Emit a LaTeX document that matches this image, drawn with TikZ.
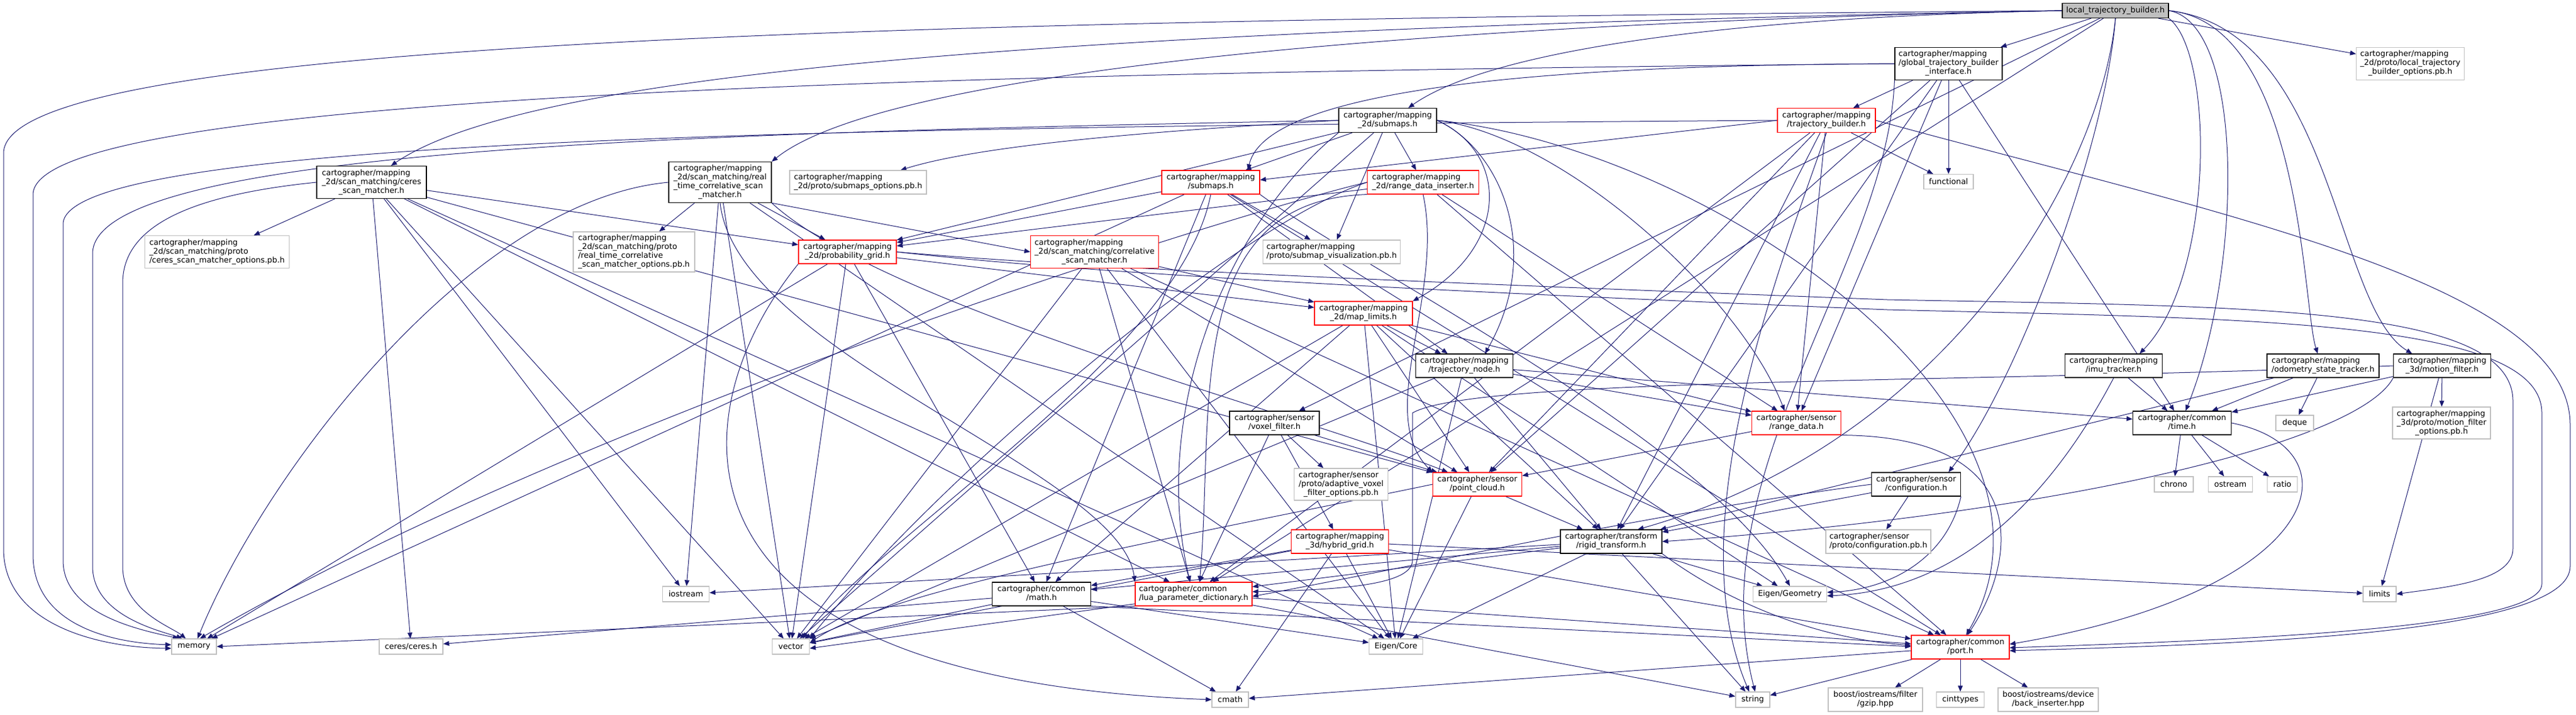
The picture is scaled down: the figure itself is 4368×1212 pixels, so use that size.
\documentclass[tikz,border=0pt]{standalone}
\usepackage{fontspec}
\setmainfont{DejaVu Sans}
\usetikzlibrary{arrows.meta}
\pgfdeclarelayer{bgzero}
\pgfdeclarelayer{edgelayer}
\pgfsetlayers{bgzero,edgelayer,main}
\definecolor{edgec}{HTML}{191970}
\definecolor{rootfill}{HTML}{BFBFBF}
\definecolor{extc}{HTML}{BFBFBF}
\newcommand{\dxl}[2]{\begin{tabular}{@{}l@{}}#1\multicolumn{1}{@{}c@{}}{#2}\end{tabular}}
\begin{document}
\begin{tikzpicture}[x=1pt,y=-1pt,
  basen/.style={rectangle, inner xsep=6pt, inner ysep=0pt, font=\fontsize{13.3pt}{15pt}\selectfont, text=black, line width=1.2pt, fill=white, minimum height=40pt},
  docn/.style={basen, draw=black},
  trunc/.style={basen, draw=red},
  extn/.style={basen, draw=extc},
  rootn/.style={basen, draw=black, fill=rootfill},
  dep/.style={draw=edgec, line width=1pt, -{Triangle[length=10pt,width=8pt]}},
]
\useasboundingbox (0,0) rectangle (4368,1212);
\begin{pgfonlayer}{bgzero}\fill[white] (0,0) rectangle (4368,1212);\end{pgfonlayer}

% ---------------- nodes ----------------
\node[rootn, minimum width=180pt, minimum height=25pt] (root) at (3587,18) {local\_trajectory\_builder.h};
\node[docn, minimum width=182pt, minimum height=55pt] (gtbi) at (3304,108) {\dxl{cartographer/mapping\\/global\_trajectory\_builder\\}{\_interface.h}};
\node[extn, minimum width=183pt, minimum height=55pt] (ltbopts) at (4087,108) {\dxl{cartographer/mapping\\\_2d/proto/local\_trajectory\\}{\_builder\_options.pb.h}};
\node[extn, minimum width=84pt, minimum height=25pt] (functional) at (3304,308) {functional};
\node[trunc, minimum width=166pt, minimum height=41pt] (trajbuilder) at (3097,204) {\dxl{cartographer/mapping\\}{/trajectory\_builder.h}};
\node[docn, minimum width=166pt, minimum height=41pt] (sub2d) at (2353,204) {\dxl{cartographer/mapping\\}{\_2d/submaps.h}};
\node[trunc, minimum width=189pt] (rdi) at (2413,309) {\dxl{cartographer/mapping\\}{\_2d/range\_data\_inserter.h}};
\node[extn, minimum width=232pt] (smviz) at (2258,427) {\dxl{cartographer/mapping\\}{/proto/submap\_visualization.pb.h}};
\node[trunc, minimum width=166pt] (maplimits) at (2312,531) {\dxl{cartographer/mapping\\}{\_2d/map\_limits.h}};
\node[trunc, minimum width=166pt] (submaps) at (2053,309) {\dxl{cartographer/mapping\\}{/submaps.h}};
\node[extn, minimum width=232pt] (smopts) at (1455,309) {\dxl{cartographer/mapping\\}{\_2d/proto/submaps\_options.pb.h}};
\node[docn, minimum width=174pt, minimum height=69pt] (rtcsm) at (1221,309) {\dxl{cartographer/mapping\\\_2d/scan\_matching/real\\\_time\_correlative\_scan\\}{\_matcher.h}};
\node[docn, minimum width=186pt, minimum height=55pt] (ceres) at (630,309) {\dxl{cartographer/mapping\\\_2d/scan\_matching/ceres\\}{\_scan\_matcher.h}};
\node[extn, minimum width=245pt, minimum height=55pt] (ceresopts) at (368,427) {\dxl{cartographer/mapping\\\_2d/scan\_matching/proto\\}{/ceres\_scan\_matcher\_options.pb.h}};
\node[extn, minimum width=206pt, minimum height=68pt] (rtcsmopts) at (1075,427) {\dxl{cartographer/mapping\\\_2d/scan\_matching/proto\\/real\_time\_correlative\\}{\_scan\_matcher\_options.pb.h}};
\node[trunc, minimum width=166pt] (probgrid) at (1437,427) {\dxl{cartographer/mapping\\}{\_2d/probability\_grid.h}};
\node[trunc, minimum width=217pt, minimum height=55pt] (corr) at (1856,427) {\dxl{cartographer/mapping\\\_2d/scan\_matching/correlative\\}{\_scan\_matcher.h}};
\node[docn, minimum width=165pt] (trajnode) at (2483,620) {\dxl{cartographer/mapping\\}{/trajectory\_node.h}};
\node[docn, minimum width=165pt] (imu) at (3584,620) {\dxl{cartographer/mapping\\}{/imu\_tracker.h}};
\node[docn, minimum width=190pt] (odom) at (3939,620) {\dxl{cartographer/mapping\\}{/odometry\_state\_tracker.h}};
\node[docn, minimum width=165pt] (motion) at (4141,620) {\dxl{cartographer/mapping\\}{\_3d/motion\_filter.h}};
\node[docn, minimum width=152pt] (voxel) at (2161,717) {\dxl{cartographer/sensor\\}{/voxel\_filter.h}};
\node[trunc, minimum width=151pt] (rangedata) at (3046,717) {\dxl{cartographer/sensor\\}{/range\_data.h}};
\node[docn, minimum width=167pt] (time) at (3700,717) {\dxl{cartographer/common\\}{/time.h}};
\node[extn, minimum width=64pt, minimum height=26pt] (deque) at (3891,717) {deque};
\node[extn, minimum width=166pt, minimum height=54pt] (mfopts) at (4140,717) {\dxl{cartographer/mapping\\\_3d/proto/motion\_filter\\}{\_options.pb.h}};
\node[extn, minimum width=159pt, minimum height=54pt] (adaptive) at (2274,821) {\dxl{cartographer/sensor\\/proto/adaptive\_voxel\\}{\_filter\_options.pb.h}};
\node[trunc, minimum width=151pt] (pointcloud) at (2505,821) {\dxl{cartographer/sensor\\}{/point\_cloud.h}};
\node[docn, minimum width=151pt] (config) at (3249,821) {\dxl{cartographer/sensor\\}{/configuration.h}};
\node[extn, minimum width=66pt, minimum height=26pt] (chrono) at (3686,821) {chrono};
\node[extn, minimum width=75pt, minimum height=26pt] (ostream) at (3782,821) {ostream};
\node[extn, minimum width=51pt, minimum height=26pt] (ratio) at (3870,821) {ratio};
\node[trunc, minimum width=165pt] (hybrid) at (2272,918) {\dxl{cartographer/mapping\\}{\_3d/hybrid\_grid.h}};
\node[docn, minimum width=172pt] (rigid) at (2732,918) {\dxl{cartographer/transform\\}{/rigid\_transform.h}};
\node[extn, minimum width=178pt] (configpb) at (3185,918) {\dxl{cartographer/sensor\\}{/proto/configuration.pb.h}};
\node[extn, minimum width=79pt, minimum height=26pt] (iostream) at (1163,1007) {iostream};
\node[docn, minimum width=167pt] (math) at (1766,1007) {\dxl{cartographer/common\\}{/math.h}};
\node[trunc, minimum width=198pt] (lua) at (2024,1007) {\dxl{cartographer/common\\}{/lua\_parameter\_dictionary.h}};
\node[extn, minimum width=125pt, minimum height=26pt] (eigengeo) at (3035,1007) {Eigen/Geometry};
\node[extn, minimum width=56pt, minimum height=26pt] (limits) at (4035,1007) {limits};
\node[extn, minimum width=76pt, minimum height=26pt] (memory) at (329,1096) {memory};
\node[extn, minimum width=108pt, minimum height=26pt] (ceresh) at (697,1096) {ceres/ceres.h};
\node[extn, minimum width=63pt, minimum height=26pt] (vector) at (1341,1096) {vector};
\node[extn, minimum width=91pt, minimum height=26pt] (eigencore) at (2367,1096) {Eigen/Core};
\node[trunc, minimum width=166pt] (port) at (3324,1097) {\dxl{cartographer/common\\}{/port.h}};
\node[extn, minimum width=62pt, minimum height=26pt] (cmath) at (2086,1186) {cmath};
\node[extn, minimum width=58pt, minimum height=26pt] (string) at (2972,1186) {string};
\node[extn, minimum width=160pt] (gzip) at (3180,1186) {\dxl{boost/iostreams/filter\\}{/gzip.hpp}};
\node[extn, minimum width=81pt, minimum height=26pt] (cinttypes) at (3324,1186) {cinttypes};
\node[extn, minimum width=170pt] (backins) at (3473,1186) {\dxl{boost/iostreams/device\\}{/back\_inserter.hpp}};

% ---------------- edges ----------------
\begin{pgfonlayer}{edgelayer}
% far-left loops into memory
\draw[dep] (root.west) .. controls (1500,35) and (6,70) .. (6,260) -- (6,930) .. controls (6,1060) and (170,1098) .. ([yshift=-3pt]memory.west);
\draw[dep] (gtbi.west) .. controls (1400,125) and (56,170) .. (56,330) -- (56,940) .. controls (56,1060) and (190,1090) .. ([yshift=3pt]memory.west);
\draw[dep] (trajbuilder.west) .. controls (1500,215) and (107,230) .. (107,380) -- (107,950) .. controls (107,1045) and (250,1070) .. ([xshift=-26pt]memory.north);
\draw[dep] (sub2d.west) .. controls (1200,225) and (157,250) .. (157,430) -- (157,960) .. controls (157,1045) and (275,1070) .. ([xshift=-20pt]memory.north);
\draw[dep] (ceres.west) .. controls (330,330) and (208,380) .. (208,480) -- (208,960) .. controls (208,1035) and (290,1062) .. ([xshift=-14pt]memory.north);

% root
\draw[dep] (root.west) .. controls (1800,50) and (900,120) .. ([xshift=33pt]ceres.north);
\draw[dep] (root.west) .. controls (2400,40) and (1500,120) .. (rtcsm.north east);
\draw[dep] (root.west) .. controls (2900,30) and (2520,90) .. ([xshift=35pt]sub2d.north);
\draw[dep] (root.south east) .. controls (3755,90) and (3755,470) .. ([xshift=44pt]imu.north);
\draw[dep] (root.east) .. controls (3805,40) and (3805,450) .. ([xshift=6pt]time.north);
\draw[dep] (root.east) .. controls (3904,40) and (3904,520) .. ([xshift=-9pt]odom.north);
\draw[dep] (root.east) .. controls (3958,50) and (3958,520) .. ([xshift=-51pt]motion.north);
\draw[dep] (root.south) .. controls (3570,250) and (3420,650) .. ([xshift=55pt]config.north);
\draw[dep] (root.south) .. controls (3560,300) and (3300,750) .. ([xshift=45pt]rigid.north);
\foreach \a/\b in {root/gtbi, root/ltbopts, root/voxel, root/lua} {\draw[dep] (\a) -- (\b);}

% global trajectory builder interface
\foreach \a/\b in {gtbi/functional, gtbi/trajbuilder, gtbi/time, gtbi/pointcloud, gtbi/rangedata, gtbi/rigid} {\draw[dep] (\a) -- (\b);}
\draw[dep] (gtbi.west) .. controls (2700,110) and (2150,140) .. ([xshift=63pt]submaps.north);
\draw[dep] (gtbi.south west) .. controls (3200,450) and (2880,800) .. ([xshift=4pt]string.north);

% trajectory builder
\foreach \a/\b in {trajbuilder/functional, trajbuilder/lua, trajbuilder/pointcloud, trajbuilder/rangedata, trajbuilder/rigid} {\draw[dep] (\a) -- (\b);}
\draw[dep] (trajbuilder.west) -- ([yshift=4pt]submaps.east);
\draw[dep] (trajbuilder.south) .. controls (3000,500) and (2850,900) .. ([xshift=-6pt]string.north);
\draw[dep] (trajbuilder.east) .. controls (3750,360) and (4358,480) .. (4358,720) -- (4358,960) .. controls (4358,1075) and (3800,1092) .. ([yshift=-6pt]port.east);

% 2d submaps
\foreach \a/\b in {sub2d/vector, sub2d/smviz, sub2d/submaps, sub2d/probgrid, sub2d/rdi} {\draw[dep] (\a) -- (\b);}
\draw[dep] (sub2d.east) .. controls (2650,230) and (2950,500) .. ([xshift=-20pt]rangedata.north);
\draw[dep] (sub2d.south west) .. controls (2080,380) and (1950,700) .. ([xshift=-6pt]lua.north);
\draw[dep] (sub2d.east) .. controls (2900,250) and (3550,700) .. ([xshift=10pt]port.north);
\draw[dep] (sub2d.west) .. controls (1900,225) and (1650,250) .. ([xshift=72pt]smopts.north);
\draw[dep] (sub2d.east) .. controls (2540,250) and (2620,420) .. ([xshift=35pt]trajnode.north);
\draw[dep] (sub2d.east) .. controls (2560,260) and (2560,420) .. (maplimits.north east);

% mapping submaps
\foreach \a/\b in {submaps/memory, submaps/math, submaps/port, submaps/smviz, submaps/probgrid, submaps/trajnode} {\draw[dep] (\a) -- (\b);}
\draw[dep] (submaps.south) .. controls (2000,600) and (1500,900) .. ([xshift=20pt]vector.north);
\draw[dep] (submaps.south east) .. controls (2300,450) and (2900,750) .. (eigengeo.north);

% range data inserter
\foreach \a/\b in {rdi/port, rdi/probgrid, rdi/rangedata} {\draw[dep] (\a) -- (\b);}
\draw[dep] (rdi.west) .. controls (2100,380) and (1600,800) .. (vector.north east);
\draw[dep] (rdi.west) .. controls (2100,360) and (1000,700) .. ([xshift=10pt]memory.north);
\draw[dep] (rdi.south) .. controls (2450,500) and (2330,700) .. (pointcloud.north west);
\draw[dep] (rdi.south west) .. controls (2000,340) and (2060,700) .. ([xshift=10pt]lua.north);

% real time correlative scan matcher
\foreach \a/\b in {rtcsm/vector, rtcsm/eigencore, rtcsm/probgrid, rtcsm/rtcsmopts, rtcsm/iostream} {\draw[dep] (\a) -- (\b);}
\draw[dep] (rtcsm.south east) -- (corr.west);
\draw[dep] (rtcsm.west) .. controls (800,340) and (450,800) .. ([xshift=6pt]memory.north);
\draw[dep] (rtcsm.south) .. controls (1250,600) and (1900,800) .. (lua.north west);
\draw[dep] (rtcsm.south east) .. controls (1500,520) and (2200,700) .. ([xshift=-50pt]pointcloud.north);

% ceres scan matcher
\foreach \a/\b in {ceres/vector, ceres/eigencore, ceres/lua, ceres/probgrid, ceres/ceresopts, ceres/ceresh, ceres/iostream, ceres/pointcloud} {\draw[dep] (\a) -- (\b);}

% probability grid
\foreach \a/\b in {probgrid/memory, probgrid/vector, probgrid/math, probgrid/maplimits} {\draw[dep] (\a) -- (\b);}
\draw[dep] (probgrid.south west) .. controls (1150,700) and (1100,1150) .. (cmath.west);
\draw[dep] (probgrid.east) .. controls (1900,460) and (2600,485) .. (3200,508) .. controls (3800,520) and (4261,515) .. (4261,680) -- (4261,930) .. controls (4261,985) and (4150,995) .. (limits.east);
\draw[dep] (probgrid.east) .. controls (1900,470) and (2600,500) .. (3200,525) .. controls (3800,540) and (4310,540) .. (4310,700) -- (4310,990) .. controls (4310,1065) and (3800,1085) .. ([yshift=-1pt]port.east);

% correlative scan matcher
\foreach \a/\b in {corr/vector, corr/eigencore, corr/lua, corr/port, corr/maplimits, corr/pointcloud} {\draw[dep] (\a) -- (\b);}

% map limits
\foreach \a/\b in {maplimits/vector, maplimits/eigencore, maplimits/eigengeo, maplimits/math, maplimits/trajnode, maplimits/rangedata, maplimits/pointcloud, maplimits/rigid} {\draw[dep] (\a) -- (\b);}

% trajectory node
\foreach \a/\b in {trajnode/vector, trajnode/eigencore, trajnode/time, trajnode/rangedata, trajnode/rigid} {\draw[dep] (\a) -- (\b);}

% voxel filter
\foreach \a/\b in {voxel/lua, voxel/hybrid, voxel/pointcloud, voxel/adaptive} {\draw[dep] (\a) -- (\b);}

% range data
\draw[dep] (rangedata) -- (pointcloud);
\draw[dep] (rangedata.south east) .. controls (3450,740) and (3420,950) .. ([xshift=12pt]port.north);

% point cloud
\draw[dep] (pointcloud.west) .. controls (2000,910) and (1500,1000) .. ([yshift=6pt]vector.east);
\foreach \a/\b in {pointcloud/eigencore, pointcloud/rigid} {\draw[dep] (\a) -- (\b);}

% hybrid grid
\foreach \a/\b in {hybrid/vector, hybrid/math, hybrid/cmath, hybrid/eigencore, hybrid/limits, hybrid/port} {\draw[dep] (\a) -- (\b);}

% rigid transform
\foreach \a/\b in {rigid/iostream, rigid/string, rigid/eigencore, rigid/eigengeo, rigid/lua, rigid/math} {\draw[dep] (\a) -- (\b);}
\draw[dep] (rigid.south east) .. controls (2900,1000) and (3050,1080) .. ([yshift=3pt]port.west);

% configuration
\foreach \a/\b in {config/configpb, config/rigid} {\draw[dep] (\a) -- (\b);}
\draw[dep] (config.west) .. controls (2800,870) and (2400,960) .. ([yshift=-4pt]lua.east);
\draw[dep] (config.south east) .. controls (3300,950) and (3200,1000) .. ([yshift=3pt]eigengeo.east);

% imu tracker
\draw[dep] (imu) -- (time);
\draw[dep] (imu.south) .. controls (3500,800) and (3350,1000) .. ([yshift=-3pt]eigengeo.east);

% odometry state tracker
\foreach \a/\b in {odom/time, odom/deque, odom/rigid} {\draw[dep] (\a) -- (\b);}

% motion filter
\foreach \a/\b in {motion/limits, motion/time, motion/mfopts} {\draw[dep] (\a) -- (\b);}
\draw[dep] (motion.south west) .. controls (4000,750) and (3500,870) .. (rigid.east);
\draw[dep] (motion.west) .. controls (3300,650) and (2500,640) .. (2395,700) -- (2395,950) .. controls (2395,995) and (2250,1000) .. ([yshift=4pt]lua.east);

% time
\foreach \a/\b in {time/chrono, time/ostream, time/ratio} {\draw[dep] (\a) -- (\b);}
\draw[dep] (time.east) .. controls (4000,760) and (3950,1000) .. ([yshift=5pt]port.east);

% math
\draw[dep] (math.south east) -- ([yshift=1pt]port.west);
\foreach \a/\b in {math/cmath, math/vector, math/eigencore, math/ceresh} {\draw[dep] (\a) -- (\b);}

% lua parameter dictionary
\draw[dep] (lua.south west) -- (memory.east);
\draw[dep] ([yshift=4pt]lua.south west) -- ([yshift=-3pt]vector.east);
\foreach \a/\b in {lua/string, lua/port} {\draw[dep] (\a) -- (\b);}

% port
\foreach \a/\b in {port/backins, port/gzip, port/cinttypes, port/cmath, port/string} {\draw[dep] (\a) -- (\b);}
\end{pgfonlayer}
\end{tikzpicture}
\end{document}
